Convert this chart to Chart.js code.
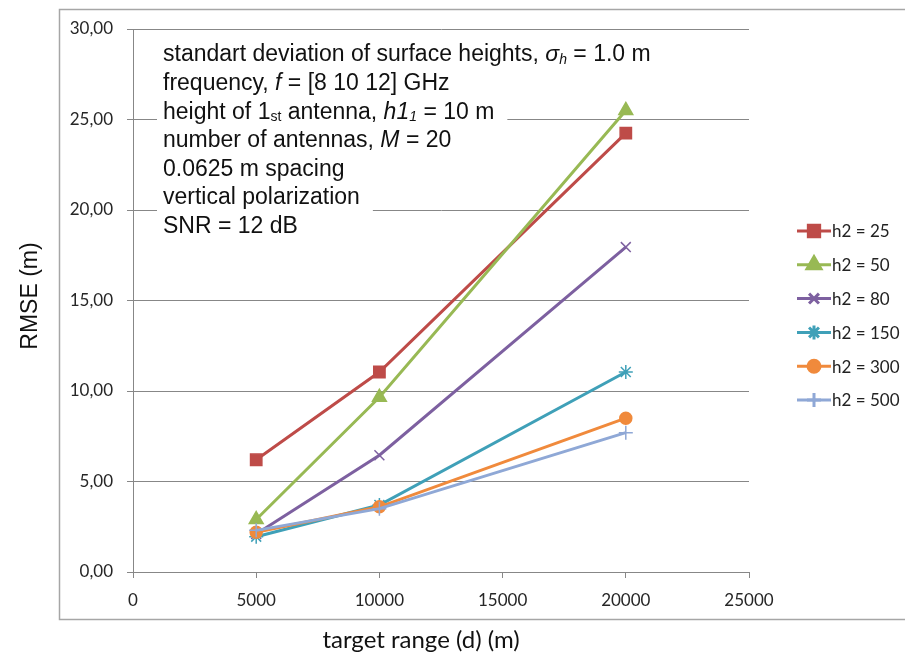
<!DOCTYPE html>
<html>
<head>
<meta charset="utf-8">
<script src="https://cdn.jsdelivr.net/npm/chart.js@4/dist/chart.umd.min.js"></script>
<style>
  html, body { margin: 0; padding: 0; background: #fff; }
  #wrap { width: 905px; height: 662px; position: relative; }
</style>
</head>
<body>
<div id="wrap"><canvas id="rmse" width="905" height="662"></canvas></div>
<script>
// target range (m)
const ranges = [5000, 10000, 20000];

// RMSE (m) for each receiver height h2
const rmseH25 = [6.2, 11.05, 24.25];
const rmseH50 = [2.9, 9.65, 25.5];
const rmseH80 = [2.1, 6.45, 17.95];
const rmseH150 = [1.95, 3.7, 11.05];
const rmseH300 = [2.2, 3.6, 8.5];
const rmseH500 = [2.3, 3.5, 7.7];

const seriesNames = ['h2 = 25', 'h2 = 50', 'h2 = 80', 'h2 = 150', 'h2 = 300', 'h2 = 500'];
const xTicks = [0, 5000, 10000, 15000, 20000, 25000];
const yTicks = [0, 5, 10, 15, 20, 25, 30];

const notes = [
    [{ t: 'standart deviation of surface heights, ' }, { t: 'σ', i: true }, { t: 'h', i: true, sub: true }, { t: ' = 1.0 m' }],
    [{ t: 'frequency, ' }, { t: 'f', i: true }, { t: ' = [8 10 12] GHz' }],
    [{ t: 'height of 1' }, { t: 'st', sub: true }, { t: ' antenna, ' }, { t: 'h1', i: true }, { t: '1', i: true, sub: true }, { t: ' = 10 m' }],
    [{ t: 'number of antennas, ' }, { t: 'M', i: true }, { t: ' = 20' }],
    [{ t: '0.0625 m spacing' }],
    [{ t: 'vertical polarization' }],
    [{ t: 'SNR = 12 dB' }]
];

const styles = [
    { color: '#BE4B48', point: 'rect', r: 8 },
    { color: '#98B954', point: 'triangle', r: 8 },
    { color: '#7D60A0', point: 'crossRot', r: 7 },
    { color: '#3FA0B8', point: 'star', r: 7 },
    { color: '#F08A3C', point: 'circle', r: 6 },
    { color: '#8FA8D6', point: 'cross', r: 7 }
];

const allValues = [rmseH25, rmseH50, rmseH80, rmseH150, rmseH300, rmseH500];

const datasets = allValues.map((vals, i) => ({
    label: seriesNames[i],
    data: vals.map((v, k) => ({ x: ranges[k], y: v })),
    borderColor: styles[i].color,
    backgroundColor: styles[i].color,
    pointBorderColor: styles[i].color,
    pointBackgroundColor: styles[i].color,
    pointStyle: styles[i].point,
    pointRadius: styles[i].r,
    pointBorderWidth: 1.5,
    borderWidth: 3,
    order: allValues.length - i,
    tension: 0
}));

const FONT_TICK = 'Lato, "DejaVu Sans", sans-serif';
const FONT_TEXT = '"Liberation Sans", Arial, sans-serif';

function drawRich(ctx, segs, x, y, size) {
    let cx = x;
    segs.forEach(s => {
        const fs = s.sub ? Math.round(size * 0.62) : size;
        ctx.font = (s.i ? 'italic ' : '') + fs + 'px ' + FONT_TEXT;
        ctx.fillText(s.t, cx, s.sub ? y + 5 : y);
        cx += ctx.measureText(s.t).width;
    });
    return cx;
}

const decorations = {
    id: 'decorations',
    afterDraw(chart) {
        const ctx = chart.ctx;
        ctx.save();

        // frame around the whole chart
        ctx.strokeStyle = '#A6A6A6';
        ctx.lineWidth = 1.5;
        ctx.strokeRect(59.5, 9.5, 850, 610);

        // parameter notes, each line on its own white box
        ctx.textBaseline = 'middle';
        ctx.textAlign = 'left';
        const size = 23;
        notes.forEach((segs, k) => {
            const y = 55 + k * 28.6;
            ctx.fillStyle = 'rgba(0,0,0,0)';
            const end = drawRich(ctx, segs, 163, -1000, size);
            ctx.fillStyle = '#fff';
            ctx.fillRect(157, y - 14.3, end - 157 + 13, 28.6);
            ctx.fillStyle = '#111';
            drawRich(ctx, segs, 163, y, size);
        });

        // axis titles
        ctx.fillStyle = '#111';
        ctx.textAlign = 'center';
        ctx.font = '23px ' + FONT_TEXT;
        ctx.save();
        ctx.translate(31, 296);
        ctx.rotate(-Math.PI / 2);
        ctx.fillText('RMSE (m)', 0, 0);
        ctx.restore();
        ctx.font = '24px ' + FONT_TICK;
        ctx.fillText('target range (d) (m)', 421, 640);

        // legend
        ctx.textAlign = 'left';
        ctx.font = '17px ' + FONT_TICK;
        chart.data.datasets.forEach((ds, i) => {
            const y = 231 + i * 33.8;
            ctx.strokeStyle = ds.borderColor;
            ctx.lineWidth = 3;
            ctx.beginPath();
            ctx.moveTo(797, y);
            ctx.lineTo(831, y);
            ctx.stroke();
            ctx.fillStyle = ds.borderColor;
            Chart.helpers.drawPoint(ctx, {
                pointStyle: ds.pointStyle,
                radius: ds.pointRadius,
                rotation: 0,
                borderWidth: ds.pointBorderWidth
            }, 814, y);
            ctx.fillStyle = '#222';
            ctx.fillText(ds.label, 832, y + 1);
        });

        ctx.restore();
    }
};

new Chart(document.getElementById('rmse'), {
    type: 'line',
    data: { datasets },
    options: {
        responsive: false,
        animation: false,
        events: [],
        layout: { padding: { left: 0, right: 156, top: 29, bottom: 0 } },
        plugins: { legend: { display: false }, tooltip: { enabled: false } },
        scales: {
            x: {
                type: 'linear',
                min: 0,
                max: 25000,
                afterBuildTicks: s => { s.ticks = xTicks.map(v => ({ value: v })); },
                afterFit: s => { s.height = 90; },
                ticks: {
                    callback: v => String(v),
                    color: '#262626',
                    font: { family: FONT_TICK, size: 17 },
                    padding: 12,
                    maxRotation: 0
                },
                grid: { drawOnChartArea: false, drawTicks: true, tickLength: 6, color: '#878787' },
                border: { color: '#878787', width: 1 }
            },
            y: {
                min: 0,
                max: 30,
                afterBuildTicks: s => { s.ticks = yTicks.map(v => ({ value: v })); },
                afterFit: s => { s.width = 133; },
                ticks: {
                    callback: v => v.toFixed(2).replace('.', ','),
                    color: '#262626',
                    font: { family: FONT_TICK, size: 17 },
                    padding: 14
                },
                grid: { color: '#878787', tickLength: 6 },
                border: { color: '#878787', width: 1 }
            }
        }
    },
    plugins: [decorations]
});
</script>
</body>
</html>
